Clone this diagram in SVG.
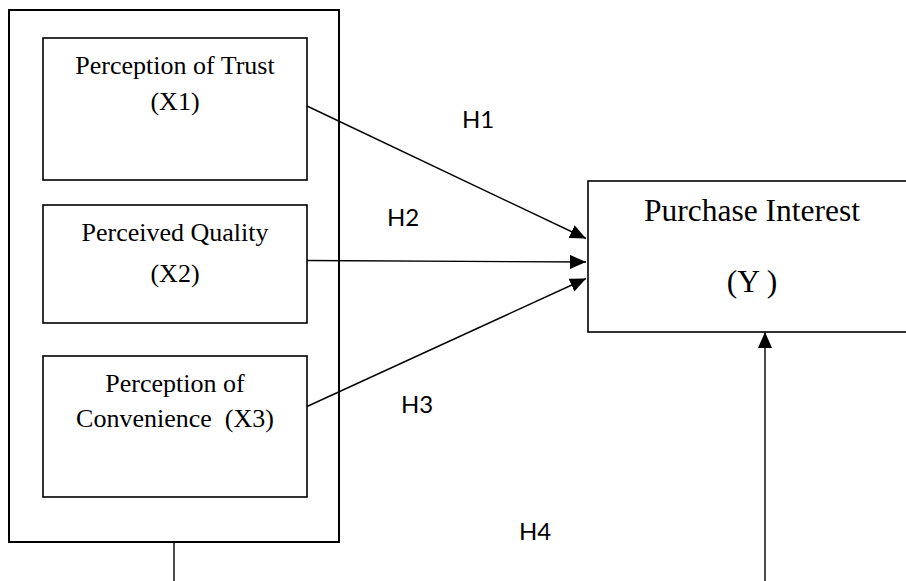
<svg xmlns="http://www.w3.org/2000/svg" width="906" height="581" viewBox="0 0 906 581">
<style>
.box{fill:#fff;stroke:#000;stroke-width:1.6}
.outer{fill:none;stroke:#000;stroke-width:2}
.t{font-family:"Liberation Serif","Times New Roman",serif;font-size:26px;fill:#000;text-anchor:middle}
.ty{font-family:"Liberation Serif","Times New Roman",serif;font-size:31.5px;fill:#000;text-anchor:middle}
.h{font-family:Lato,"Open Sans","Liberation Sans",sans-serif;font-size:24px;fill:#000}
.c{stroke:#000;stroke-width:1.4;fill:none}
</style>
<defs>
<marker id="ah" markerUnits="userSpaceOnUse" markerWidth="18" markerHeight="16" refX="16" refY="7" orient="auto">
<path d="M0,0 L16,7 L0,14 Z" fill="#000"/>
</marker>
</defs>
<rect width="906" height="581" fill="#fff"/>
<g id="group-x">
<rect class="outer" x="9" y="10" width="330" height="532"/>
</g>
<g id="x1">
<rect class="box" x="43" y="38" width="264" height="142"/>
<text class="t" x="175" y="74">Perception of Trust</text>
<text class="t" x="175" y="110">(X1)</text>
</g>
<g id="x2">
<rect class="box" x="43" y="205" width="264" height="118"/>
<text class="t" x="175" y="241">Perceived Quality</text>
<text class="t" x="175" y="282">(X2)</text>
</g>
<g id="x3">
<rect class="box" x="43" y="356" width="264" height="141"/>
<text class="t" x="175" y="392">Perception of</text>
<text class="t" x="175" y="427" xml:space="preserve">Convenience  (X3)</text>
</g>
<g id="y">
<rect class="box" x="588" y="181" width="330" height="151"/>
<text class="ty" x="752" y="221">Purchase Interest</text>
<text class="ty" x="752" y="292" xml:space="preserve">(Y )</text>
</g>
<g id="connectors">
<line class="c" x1="307" y1="106" x2="586" y2="238.5" marker-end="url(#ah)"/>
<line class="c" x1="307" y1="260.5" x2="586" y2="262" marker-end="url(#ah)"/>
<line class="c" x1="307" y1="406.5" x2="586" y2="278.5" marker-end="url(#ah)"/>
<line class="c" x1="174" y1="542" x2="174" y2="581"/>
<line class="c" x1="765" y1="581" x2="765" y2="332" marker-end="url(#ah)"/>
</g>
<g id="labels">
<text class="h" x="462" y="128">H1</text>
<text class="h" x="387" y="226">H2</text>
<text class="h" x="401" y="413">H3</text>
<text class="h" x="519" y="540">H4</text>
</g>
</svg>
